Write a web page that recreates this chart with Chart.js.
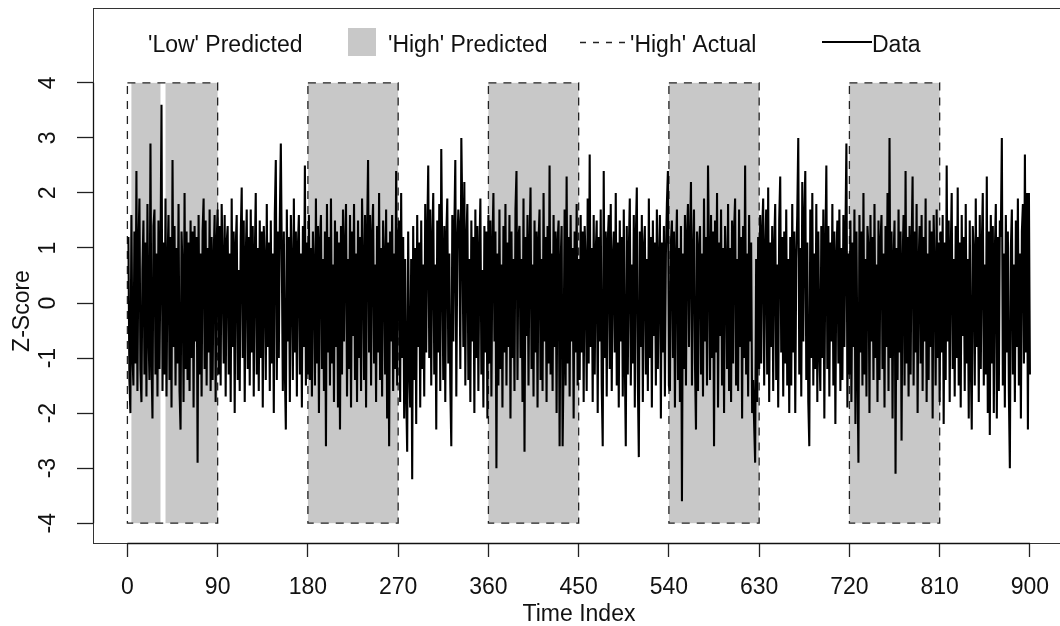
<!DOCTYPE html>
<html lang="en">
<head>
<meta charset="UTF-8">
<title>Z-Score by Time Index</title>
<script src="https://cdn.jsdelivr.net/npm/chart.js"></script>
<style>
  body { margin: 0; background: #fff; }
  #wrap { width: 1060px; height: 626px; }
</style>
</head>
<body>
<div id="wrap"><canvas id="zChart" width="1060" height="626"></canvas></div>
<script>
// z-score per time index (1..900), 30 per row
const zScores = [
  1.2, -1.4, -2.0, 1.6, -0.9, -1.5, 1.3, -1.1, 2.4, -1.6, 1.0, 1.9, -1.2, -1.8, 0.6, 1.5, -1.3, 1.1, -1.7, 1.8, -0.5, -1.4, 2.9, -1.0, -2.1, 1.4, 1.7, -1.3, 0.9, -1.7,
  1.5, -1.2, 0.8, 3.6, -1.6, 1.1, -1.3, 1.9, -1.7, 0.7, 1.6, -1.4, 1.2, -1.9, 2.6, -0.8, 1.4, -1.5, 1.0, -1.1, 1.8, -1.6, -2.3, 1.3, 0.6, -1.8, 2.0, -1.2, 1.3, -1.4,
  1.1, -1.6, 1.5, -1.0, 1.3, -1.9, 1.4, -0.7, 1.2, -2.9, 1.6, -1.3, 0.9, -1.7, 1.3, 1.9, -1.2, 1.5, -1.5, 1.0, -0.9, 1.7, -1.6, 1.2, -1.4, 0.8, 1.6, -1.8, 1.1, 1.7,
  -1.3, 1.4, -1.5, 1.8, 0.7, -1.1, 1.6, -1.7, 1.1, 1.4, -1.3, 0.9, -1.8, 1.9, -0.8, 1.3, -2.0, 1.0, 1.6, -1.4, 0.6, -1.6, 1.2, 2.1, -1.0, 1.5, -1.8, 0.8, 1.7, -1.2,
  1.2, -1.5, 1.7, -0.9, 1.4, -1.7, 0.8, 2.0, -1.3, 1.0, -1.6, 1.5, -1.0, 1.3, -1.9, 1.4, 0.7, -1.4, 1.8, -0.8, 1.1, -1.6, 1.5, -1.1, 0.9, -2.0, 1.6, 2.6, -1.4, 1.3,
  -1.0, 1.5, 2.9, 0.8, -1.6, 1.3, -1.2, -2.3, 1.7, -0.7, 1.2, -1.8, 1.6, 0.6, -1.4, 1.9, -0.9, 1.3, -1.7, 1.0, 1.6, -1.3, 0.9, -1.9, 1.4, -0.8, 2.5, -1.5, 1.1, -1.3,
  1.6, -1.4, 1.0, -1.7, 1.3, 0.6, -1.5, 1.9, -1.1, 1.4, -2.0, 1.1, 1.6, -1.2, 0.8, -1.6, 1.3, -2.6, 1.8, -0.9, 1.2, -1.5, 1.9, -1.1, 0.7, -1.8, 1.5, -0.8, 1.3, -1.9,
  1.1, -2.3, 1.4, -1.3, 1.7, -0.7, 1.0, 1.8, -1.7, 0.8, -1.2, 1.6, -1.9, 1.3, -0.6, 1.8, -1.4, 0.9, -1.8, 1.5, -1.0, 1.2, -1.6, 1.9, 0.7, -1.4, 1.6, -1.9, 1.2, 2.6,
  -0.9, 1.6, -1.5, 1.2, 1.8, -1.1, 0.7, -1.8, 1.4, -0.9, 2.0, -1.4, 1.0, -1.7, 1.5, 0.8, -1.3, 1.7, -2.1, 1.1, -2.6, 1.3, -0.7, 1.6, -1.6, 0.9, -1.2, 2.4, -1.5, 1.2,
  1.5, -1.8, 2.0, -1.0, 1.2, -2.1, 0.8, -1.6, -2.7, 1.3, -1.1, -1.9, 0.8, -3.2, 1.4, -1.4, 1.0, -2.2, 1.6, -0.8, 1.1, -1.9, 1.5, -1.2, 0.7, -1.7, 1.8, -0.9, 1.2, 2.5,
  -1.0, 1.7, -1.5, 1.1, 2.0, -1.3, 0.7, -2.3, 1.5, -0.9, 1.8, -1.6, 2.8, 0.8, -1.4, 1.4, -1.8, 1.2, 1.9, -1.1, 0.9, -1.5, -2.6, 1.6, -0.7, 1.3, 2.6, -1.7, 1.0, 1.7,
  1.3, -1.2, 3.0, 1.6, -0.8, 2.2, -1.5, 1.1, 1.8, -1.4, 0.8, -1.8, 1.5, -0.7, 1.2, -2.0, 1.7, -1.0, 1.4, -1.6, 0.9, 1.9, -1.3, 0.6, -1.9, 1.4, -0.9, 1.3, -2.1, 1.6,
  -1.1, 1.5, -1.7, 1.0, 2.0, -0.7, 1.3, -3.0, 0.9, -1.5, 1.7, -1.2, 0.7, -1.9, 1.4, -0.9, 1.8, -1.5, 1.1, -0.8, 1.6, -2.1, 1.3, -1.0, 0.8, -1.6, 1.7, 2.4, -1.4, 1.2,
  1.4, -1.0, 0.8, -1.8, 1.9, -2.7, 1.2, -0.6, 1.6, -1.5, 1.0, 2.1, -1.2, 0.7, -1.7, 1.5, -0.9, 1.3, -1.9, 1.1, 1.7, -1.4, 0.8, -1.6, 2.0, -0.7, 1.2, -1.8, 1.4, -1.1,
  2.5, -1.3, 0.9, -1.6, 1.6, -0.8, 1.3, -2.0, 1.1, 1.5, -2.6, 0.7, 1.4, -2.6, -1.0, 1.7, -1.5, 2.3, -1.1, 1.2, -1.7, 1.6, -0.7, 1.0, -2.1, 1.3, -0.9, 1.8, -1.5, 0.8,
  -1.4, 1.6, -0.9, 1.3, -1.8, 1.4, 0.7, -1.6, 1.9, -1.1, 2.7, -0.8, 1.0, -1.8, 1.6, -1.3, 0.9, 1.5, -2.0, 1.2, -0.7, 1.7, -1.5, -2.6, 2.4, -1.0, 1.3, -1.7, 1.1, 1.6,
  -1.2, 1.8, -1.6, 0.8, 1.3, -0.9, 2.0, -1.5, 1.1, -1.9, 1.5, -0.7, 1.2, -1.7, 1.7, -1.0, -2.6, 1.4, -1.3, 0.9, 1.9, -1.5, 0.7, -1.1, 1.6, -1.9, 1.2, 2.1, -1.4, -2.8,
  1.3, -0.8, 1.6, -1.8, 1.0, 1.4, -1.3, 0.8, -1.6, 1.9, -1.0, 1.2, -1.9, 1.5, -0.6, 1.1, -1.5, 1.7, -1.2, 0.7, 1.6, -2.1, 1.1, -0.9, 1.4, -1.7, 0.9, 1.8, 2.4, -1.5,
  -1.6, 1.1, 1.5, -1.0, 1.3, -1.9, 0.8, 1.7, -1.4, 1.0, -1.8, 1.4, -3.6, 0.9, -1.2, 1.6, -1.5, 1.2, 1.8, -0.8, 1.1, 2.2, -1.5, 0.8, 1.7, -1.1, -2.3, 1.3, -1.6, 1.0,
  1.4, -1.3, 0.9, -1.7, 1.9, -0.7, 1.2, -1.5, 2.5, 0.8, -1.4, 1.6, -1.0, 1.3, -2.6, 1.5, -0.9, 2.0, -1.9, 1.1, -0.6, 1.7, -1.5, 1.0, -2.0, 1.4, 0.7, -1.2, 1.8, -1.6,
  1.0, -1.8, 1.5, -1.1, 1.3, 1.9, -1.5, 0.8, -1.6, 1.7, -0.8, 1.2, -2.1, 1.4, -1.0, 2.5, -1.3, 0.9, -1.7, 1.6, -0.7, 1.1, -2.0, -1.4, -2.2, -2.9, 0.8, -1.8, 1.2, -1.2,
  1.6, -1.1, 1.3, 1.9, -1.5, 0.9, 1.7, -1.3, 2.1, -1.8, 1.1, -0.8, 1.4, -1.6, 1.0, 1.8, -1.4, 0.7, -1.9, 1.5, 2.3, -0.9, 1.2, -1.7, 1.3, -1.1, 1.7, -1.5, 0.8, -2.0,
  1.2, -1.5, 1.8, -0.9, 1.3, -2.0, 0.8, 1.6, 3.0, -1.3, 1.0, -1.7, 2.2, -0.7, 1.5, 2.4, -1.4, 1.1, -1.8, -2.6, 1.7, -1.0, 2.0, -1.5, 0.9, -1.2, 1.8, -1.8, 1.3, -0.8,
  -1.6, 1.4, -1.0, 1.7, -2.1, 0.9, 2.5, -1.2, 1.4, -1.7, 1.1, -0.7, 1.8, -1.5, 1.3, -2.2, 0.8, 1.5, -1.1, 1.7, -1.6, 1.0, -1.4, 1.6, -0.8, 1.2, 2.9, -1.9, 0.9, -1.3,
  1.5, -1.8, 1.1, -0.8, 1.7, -2.2, 1.3, -1.1, -2.9, 1.6, -0.9, 1.3, -1.5, 2.0, -1.3, 0.8, -1.7, 1.4, 1.0, -2.0, 1.6, -0.7, 1.2, -1.4, 1.8, -1.0, 0.7, -1.8, 1.5, -1.4,
  1.1, 1.6, -1.2, 0.9, -1.9, 1.4, -0.8, 2.0, -1.6, 3.0, -1.0, 1.3, -2.1, 0.8, 1.5, -3.1, 1.0, -1.4, 1.7, -0.9, 1.3, -2.5, 0.7, 1.6, -1.5, 2.4, -1.1, 1.2, -1.7, 1.4,
  -1.3, 1.0, 2.3, -1.5, 1.3, -0.9, 1.8, -2.0, 0.7, 1.4, -1.1, 1.6, -1.6, 1.2, -0.7, 1.9, -1.8, 0.9, -1.4, 1.5, -0.8, 1.3, -2.1, 1.6, 0.6, -1.5, 1.7, -1.0, 1.1, -1.8,
  1.3, -0.9, 1.6, -2.2, 1.1, -1.4, 2.5, -0.7, 1.5, -1.8, 0.9, 2.0, -1.2, 0.8, -1.7, 1.4, -1.0, 2.1, -1.5, 1.1, -1.9, 1.6, -0.6, 1.2, -1.6, 1.8, -1.1, 0.8, -2.1, 1.5,
  -1.0, -2.3, 1.4, 0.9, -1.5, 1.9, -0.8, 1.2, -1.8, 1.6, -1.2, 1.0, 2.0, -1.5, 0.7, -1.3, 2.3, -2.0, 1.3, -2.4, 1.6, -1.1, 1.4, -2.0, 0.9, 1.8, -2.1, 1.2, -1.6, 1.5,
  1.2, 3.0, -1.5, 0.9, -1.9, 1.6, -0.9, 1.3, -1.6, -3.0, 1.0, 1.7, -1.3, 0.7, -1.8, 1.5, -0.8, 1.9, -1.5, 0.9, -2.1, 1.3, 1.8, -1.1, 2.7, -0.9, 2.0, -2.3, 2.0, -1.3
];

// time-index windows
const highPredicted = [[4, 90], [180, 270], [360, 450], [540, 630], [720, 810]];
const highActual = [[0, 90], [180, 270], [360, 450], [540, 630], [720, 810]];
const lowPredicted = [[33, 38]];
const windowRange = [-4, 4];

const xTicks = [0, 90, 180, 270, 360, 450, 540, 630, 720, 810, 900];
const yTicks = [-4, -3, -2, -1, 0, 1, 2, 3, 4];
const legendLabels = ["'Low' Predicted", "'High' Predicted", "'High' Actual", "Data"];
const xTitle = 'Time Index';
const yTitle = 'Z-Score';

const FONT = '"Liberation Sans", Arial, Helvetica, sans-serif';
const TEXT = '#111';

// no extra room for labels: the plot region is fixed like in base R
function fixScale(s, key, size) {
  s[key] = size;
  s.paddingLeft = 0;
  s.paddingRight = 0;
  s.paddingTop = 0;
  s.paddingBottom = 0;
}

const windowsPlugin = {
  id: 'windows',
  beforeDatasetsDraw(chart) {
    const { ctx, scales: { x, y } } = chart;
    const top = y.getPixelForValue(windowRange[1]);
    const bot = y.getPixelForValue(windowRange[0]);
    ctx.save();
    ctx.fillStyle = '#c8c8c8';
    highPredicted.forEach(([a, b]) => {
      const l = x.getPixelForValue(a);
      ctx.fillRect(l, top, x.getPixelForValue(b) - l, bot - top);
    });
    ctx.fillStyle = '#ffffff';
    lowPredicted.forEach(([a, b]) => {
      const l = x.getPixelForValue(a);
      ctx.fillRect(l, top, x.getPixelForValue(b) - l, bot - top);
    });
    ctx.strokeStyle = '#222';
    ctx.lineWidth = 1.3;
    ctx.setLineDash([8, 7]);
    highActual.forEach(([a, b]) => {
      const l = x.getPixelForValue(a);
      ctx.strokeRect(l, top, x.getPixelForValue(b) - l, bot - top);
    });
    ctx.restore();
  },
  afterDraw(chart) {
    const { ctx, chartArea: area, scales: { x, y } } = chart;
    ctx.save();
    // plot box
    ctx.strokeStyle = '#333';
    ctx.lineWidth = 1;
    ctx.strokeRect(area.left + 0.5, area.top + 0.5, area.right - area.left + 8, area.bottom - area.top);
    // axis lines over the tick span
    ctx.strokeStyle = '#111';
    ctx.lineWidth = 1.3;
    ctx.beginPath();
    ctx.moveTo(x.getPixelForValue(xTicks[0]), area.bottom + 0.5);
    ctx.lineTo(x.getPixelForValue(xTicks[xTicks.length - 1]), area.bottom + 0.5);
    ctx.moveTo(area.left + 0.5, y.getPixelForValue(yTicks[0]));
    ctx.lineTo(area.left + 0.5, y.getPixelForValue(yTicks[yTicks.length - 1]));
    ctx.stroke();

    // rotated y tick labels
    ctx.fillStyle = TEXT;
    ctx.font = `23px ${FONT}`;
    ctx.textAlign = 'center';
    ctx.textBaseline = 'middle';
    yTicks.forEach(v => {
      ctx.save();
      ctx.translate(49, y.getPixelForValue(v));
      ctx.rotate(-Math.PI / 2);
      ctx.fillText(String(v), 0, 0);
      ctx.restore();
    });

    // axis titles
    ctx.save();
    ctx.translate(23, 311);
    ctx.rotate(-Math.PI / 2);
    ctx.fillText(yTitle, 0, 0);
    ctx.restore();
    ctx.textBaseline = 'alphabetic';
    ctx.fillText(xTitle, 579, 621);

    // legend
    ctx.textAlign = 'left';
    ctx.fillText(legendLabels[0], 148, 52);
    ctx.fillStyle = '#c8c8c8';
    ctx.fillRect(348, 28, 28, 28);
    ctx.fillStyle = TEXT;
    ctx.fillText(legendLabels[1], 388, 52);
    ctx.strokeStyle = '#222';
    ctx.lineWidth = 1.3;
    ctx.setLineDash([6, 7]);
    ctx.beginPath();
    ctx.moveTo(580, 42.5);
    ctx.lineTo(628, 42.5);
    ctx.stroke();
    ctx.fillText(legendLabels[2], 630, 52);
    ctx.setLineDash([]);
    ctx.strokeStyle = '#000';
    ctx.lineWidth = 2;
    ctx.beginPath();
    ctx.moveTo(822, 42);
    ctx.lineTo(872, 42);
    ctx.stroke();
    ctx.fillText(legendLabels[3], 872, 52);
    ctx.restore();
  }
};

const points = zScores.map((v, i) => ({ x: i + 1, y: v }));

new Chart(document.getElementById('zChart'), {
  type: 'line',
  data: {
    datasets: [{
      label: legendLabels[3],
      data: points,
      borderColor: '#000',
      borderWidth: 2.1,
      borderJoinStyle: 'miter',
      pointRadius: 0,
      tension: 0,
      fill: false
    }]
  },
  options: {
    responsive: false,
    animation: false,
    devicePixelRatio: 1,
    layout: { padding: { top: 8, left: 0, right: 0, bottom: 0 } },
    plugins: { legend: { display: false }, tooltip: { enabled: false } },
    scales: {
      x: {
        type: 'linear',
        min: -34.3,
        max: 930,
        afterBuildTicks: s => { s.ticks = xTicks.map(v => ({ value: v })); },
        afterFit: s => fixScale(s, 'height', 83),
        grid: { drawOnChartArea: false, drawTicks: true, tickLength: 14, tickColor: '#222', tickWidth: 1.3 },
        border: { display: false },
        ticks: { font: { size: 23, family: FONT }, color: TEXT, padding: 17, maxRotation: 0, autoSkip: false }
      },
      y: {
        min: -4.36,
        max: 5.36,
        afterBuildTicks: s => { s.ticks = yTicks.map(v => ({ value: v })); },
        afterFit: s => fixScale(s, 'width', 93),
        grid: { drawOnChartArea: false, drawTicks: true, tickLength: 16, tickColor: '#222', tickWidth: 1.3 },
        border: { display: false },
        ticks: { display: false }
      }
    }
  },
  plugins: [windowsPlugin]
});
</script>
</body>
</html>
